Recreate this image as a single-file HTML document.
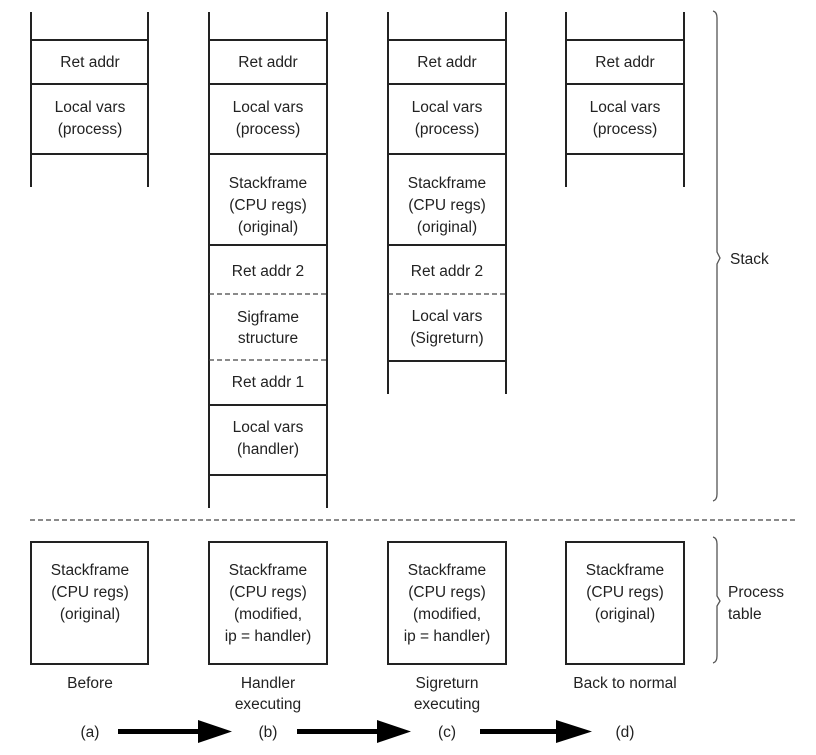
<!DOCTYPE html>
<html><head><meta charset="utf-8"><style>
html,body{margin:0;padding:0;background:#fff;}
svg{display:block;}
text{font-family:"Liberation Sans",sans-serif;font-size:15.5px;fill:#222;text-anchor:middle;}
</style></head><body>
<svg width="816" height="755" viewBox="0 0 816 755" xmlns="http://www.w3.org/2000/svg">
<g stroke="#222" stroke-width="2" fill="none">
<!-- column a -->
<line x1="31" y1="12" x2="31" y2="187"/><line x1="148" y1="12" x2="148" y2="187"/>
<line x1="31" y1="40" x2="148" y2="40"/><line x1="31" y1="84" x2="148" y2="84"/><line x1="31" y1="154" x2="148" y2="154"/>
<!-- column b -->
<line x1="209" y1="12" x2="209" y2="508"/><line x1="327" y1="12" x2="327" y2="508"/>
<line x1="209" y1="40" x2="327" y2="40"/><line x1="209" y1="84" x2="327" y2="84"/><line x1="209" y1="154" x2="327" y2="154"/>
<line x1="209" y1="245" x2="327" y2="245"/><line x1="209" y1="405" x2="327" y2="405"/><line x1="209" y1="475" x2="327" y2="475"/>
<!-- column c -->
<line x1="388" y1="12" x2="388" y2="394"/><line x1="506" y1="12" x2="506" y2="394"/>
<line x1="388" y1="40" x2="506" y2="40"/><line x1="388" y1="84" x2="506" y2="84"/><line x1="388" y1="154" x2="506" y2="154"/>
<line x1="388" y1="245" x2="506" y2="245"/><line x1="388" y1="361" x2="506" y2="361"/>
<!-- column d -->
<line x1="566" y1="12" x2="566" y2="187"/><line x1="684" y1="12" x2="684" y2="187"/>
<line x1="566" y1="40" x2="684" y2="40"/><line x1="566" y1="84" x2="684" y2="84"/><line x1="566" y1="154" x2="684" y2="154"/>
<!-- bottom boxes -->
<rect x="31" y="542" width="117" height="122"/>
<rect x="209" y="542" width="118" height="122"/>
<rect x="388" y="542" width="118" height="122"/>
<rect x="566" y="542" width="118" height="122"/>
</g>
<g stroke="#444" stroke-width="1.2" stroke-dasharray="5,3" fill="none">
<line x1="209" y1="294" x2="327" y2="294"/><line x1="209" y1="360" x2="327" y2="360"/>
<line x1="388" y1="294" x2="506" y2="294"/>
<line x1="30" y1="520" x2="798" y2="520"/>
</g>
<!-- braces -->
<g stroke="#555" stroke-width="1.3" fill="none">
<path d="M713 11 Q717 12 717 18 L717 252 L720 258 L717 264 L717 494 Q717 500 713 501"/>
<path d="M713 537 Q717 538 717 544 L717 596 L720 601 L717 606 L717 656 Q717 662 713 663"/>
</g>
<text x="90" y="67">Ret addr</text>
<text x="90" y="112">Local vars</text><text x="90" y="134">(process)</text>
<text x="268" y="67">Ret addr</text>
<text x="268" y="112">Local vars</text><text x="268" y="134">(process)</text>
<text x="268" y="188">Stackframe</text><text x="268" y="210">(CPU regs)</text><text x="268" y="232">(original)</text>
<text x="268" y="276">Ret addr 2</text>
<text x="268" y="322">Sigframe</text><text x="268" y="343">structure</text>
<text x="268" y="387">Ret addr 1</text>
<text x="268" y="432">Local vars</text><text x="268" y="454">(handler)</text>
<text x="447" y="67">Ret addr</text>
<text x="447" y="112">Local vars</text><text x="447" y="134">(process)</text>
<text x="447" y="188">Stackframe</text><text x="447" y="210">(CPU regs)</text><text x="447" y="232">(original)</text>
<text x="447" y="276">Ret addr 2</text>
<text x="447" y="321">Local vars</text><text x="447" y="343">(Sigreturn)</text>
<text x="625" y="67">Ret addr</text>
<text x="625" y="112">Local vars</text><text x="625" y="134">(process)</text>
<text x="730" y="264" style="text-anchor:start">Stack</text>
<text x="90" y="575">Stackframe</text><text x="90" y="597">(CPU regs)</text><text x="90" y="619">(original)</text>
<text x="268" y="575">Stackframe</text><text x="268" y="597">(CPU regs)</text><text x="268" y="619">(modified,</text><text x="268" y="641">ip = handler)</text>
<text x="447" y="575">Stackframe</text><text x="447" y="597">(CPU regs)</text><text x="447" y="619">(modified,</text><text x="447" y="641">ip = handler)</text>
<text x="625" y="575">Stackframe</text><text x="625" y="597">(CPU regs)</text><text x="625" y="619">(original)</text>
<text x="728" y="597" style="text-anchor:start">Process</text><text x="728" y="619" style="text-anchor:start">table</text>
<text x="90" y="688">Before</text>
<text x="268" y="688">Handler</text><text x="268" y="709">executing</text>
<text x="447" y="688">Sigreturn</text><text x="447" y="709">executing</text>
<text x="625" y="688">Back to normal</text>
<text x="90" y="737">(a)</text><text x="268" y="737">(b)</text><text x="447" y="737">(c)</text><text x="625" y="737">(d)</text>
<g fill="#000">
<rect x="118" y="729" width="84" height="5"/><polygon points="198,720 232,731.5 198,743"/>
<rect x="297" y="729" width="84" height="5"/><polygon points="377,720 411,731.5 377,743"/>
<rect x="480" y="729" width="80" height="5"/><polygon points="556,720 592,731.5 556,743"/>
</g>
</svg>
</body></html>
